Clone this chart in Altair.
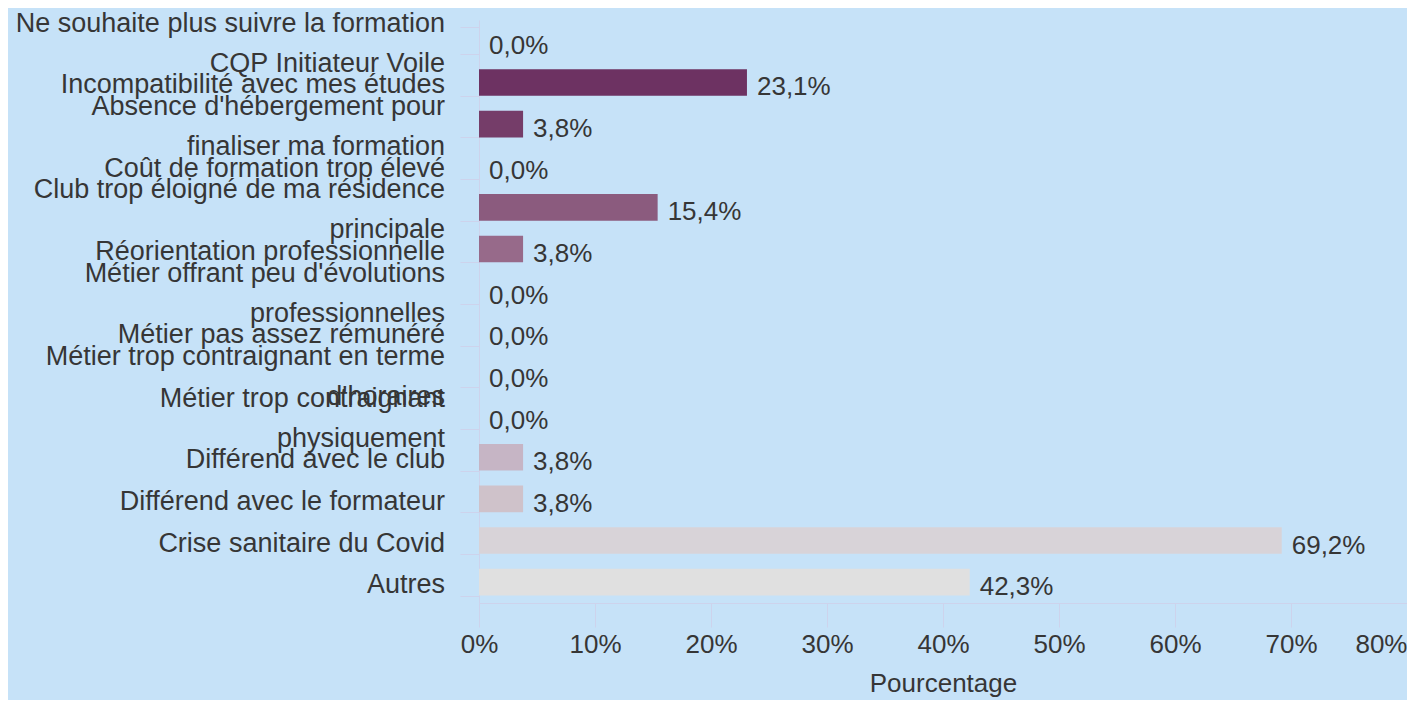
import altair as alt
import pandas as pd

categories = [
    "Ne souhaite plus suivre la formation\nCQP Initiateur Voile",
    "Incompatibilité avec mes études",
    "Absence d'hébergement pour\nfinaliser ma formation",
    "Coût de formation trop élevé",
    "Club trop éloigné de ma résidence\nprincipale",
    "Réorientation professionnelle",
    "Métier offrant peu d'évolutions\nprofessionnelles",
    "Métier pas assez rémunéré",
    "Métier trop contraignant en terme\nd'horaires",
    "Métier trop contraignant\nphysiquement",
    "Différend avec le club",
    "Différend avec le formateur",
    "Crise sanitaire du Covid",
    "Autres",
]
values = [0.0, 23.1, 3.8, 0.0, 15.4, 3.8, 0.0, 0.0, 0.0, 0.0, 3.8, 3.8, 69.2, 42.3]
x_ticks = [0, 10, 20, 30, 40, 50, 60, 70, 80]

bar_colors = [
    "#6b2f60", "#6d3262", "#753d69", "#7d4770", "#8b5b7e", "#976a8a", "#a27c96",
    "#ad8ca2", "#b79cae", "#bfaaba", "#c6b5c5", "#cfc2ca", "#d8d3d8", "#e0e0e0",
]

text_color = "#363636"
axis_color = "#cdd3ec"

df = pd.DataFrame({
    "categorie": categories,
    "valeur": values,
    "multi": ["\n" in c for c in categories],
})

y_scale = alt.Scale(paddingInner=0.36, paddingOuter=0.18)

y_enc = alt.Y(
    "categorie:N",
    sort=categories,
    title=None,
    scale=y_scale,
    axis=alt.Axis(
        labels=False,
        tickSize=19,
        tickBand="extent",
        tickColor=axis_color,
        domainColor=axis_color,
        grid=False,
    ),
)

x_enc = alt.X(
    "valeur:Q",
    title="Pourcentage",
    scale=alt.Scale(domain=[0, 80], nice=False),
    axis=alt.Axis(
        values=x_ticks,
        labelExpr="datum.value + '%'",
        labelFontSize=26,
        labelColor=text_color,
        labelPadding=4,
        labelAlign=alt.condition("datum.value == 80", alt.value("right"), alt.value("center")),
        tickSize=24,
        tickColor=axis_color,
        domainColor=axis_color,
        grid=False,
        titleFontSize=26,
        titleFontWeight="normal",
        titleColor=text_color,
        titlePadding=13,
    ),
)

bars = alt.Chart(df).mark_bar().encode(
    y=y_enc,
    x=x_enc,
    color=alt.Color("categorie:N", scale=alt.Scale(domain=categories, range=bar_colors), legend=None),
)

values_text = alt.Chart(df).transform_calculate(
    etiquette="replace(format(datum.valeur, '.1f'), '.', ',') + '%'"
).mark_text(align="left", baseline="middle", dx=10, dy=5, fontSize=26, color=text_color).encode(
    y=alt.Y("categorie:N", sort=categories),
    x=alt.X("valeur:Q"),
    text="etiquette:N",
)

cat_single = alt.Chart(df).transform_filter("!datum.multi").mark_text(
    align="right", baseline="middle", dx=-34, dy=3, fontSize=27, color=text_color
).encode(
    y=alt.Y("categorie:N", sort=categories),
    x=alt.datum(0),
    text="categorie:N",
)

cat_multi = alt.Chart(df).transform_filter("datum.multi").mark_text(
    align="right", baseline="middle", dx=-34, dy=-17, fontSize=27,
    lineBreak="\n", lineHeight=40, color=text_color
).encode(
    y=alt.Y("categorie:N", sort=categories),
    x=alt.datum(0),
    text="categorie:N",
)

chart = alt.layer(bars, values_text, cat_single, cat_multi).properties(
    width=928,
    height=583,
    autosize=alt.AutoSizeParams(type="none"),
    padding={"left": 471, "top": 12, "right": 0, "bottom": 97},
    background="#c6e2f8",
).configure(
    font="Liberation Sans",
).configure_view(strokeWidth=0)

chart.save("out.html", embed_options={"renderer": "svg", "actions": False})
